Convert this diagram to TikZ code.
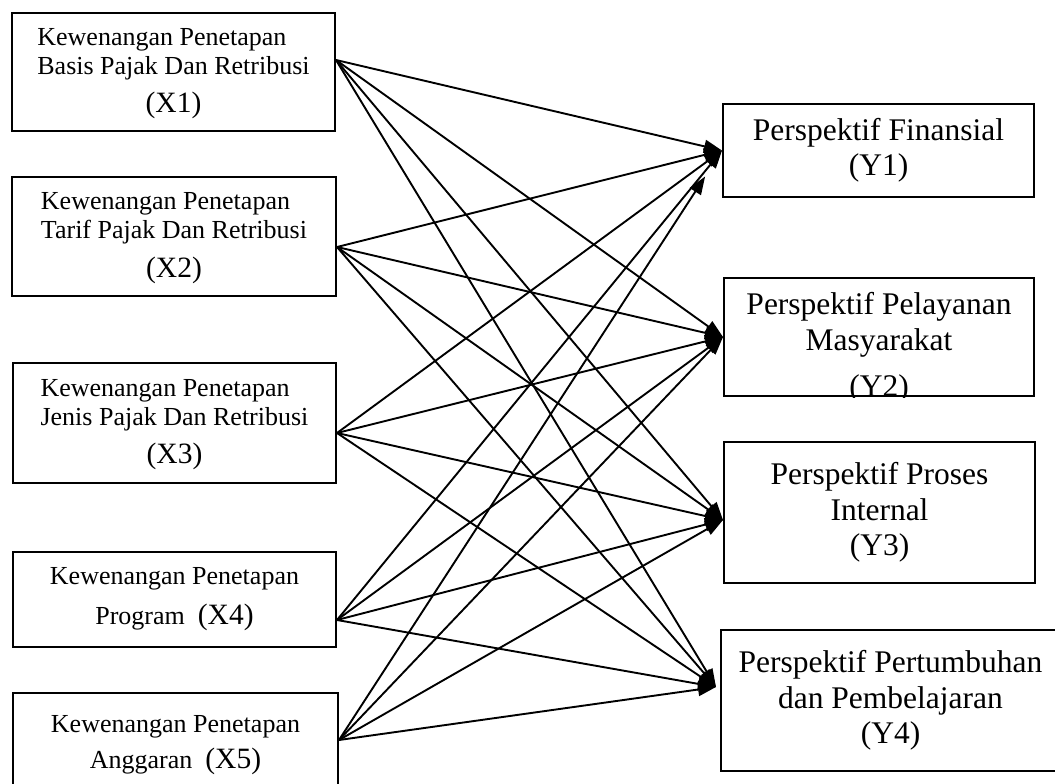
\documentclass[tikz,border=0pt]{standalone}
\usepackage{fontspec}
\setmainfont{Liberation Serif}
\usetikzlibrary{arrows.meta}

\begin{document}
\begin{tikzpicture}[x=1pt, y=-1pt,
    kotakx/.style={draw, line width=2pt, align=center, inner sep=0pt, font=\fontsize{26}{29}\selectfont},
    kotaky/.style={draw, line width=2pt, align=center, inner sep=0pt, font=\fontsize{31.5}{35.5}\selectfont},
    panah/.style={line width=1.9pt, -{Triangle[length=18pt, width=13pt]}}]
    \clip (0,0) rectangle (1055,784);

    % =========================================================
    % VARIABEL X (kiri)
    % =========================================================
    % Kotak X1
    \node[kotakx, minimum width=323pt, minimum height=118pt] (x1) at (173.5,72)
        {\begin{tabular}[b]{@{}l@{}}Kewenangan Penetapan\\Basis Pajak Dan Retribusi\end{tabular}\\[8pt]
         {\fontsize{29.5}{37}\selectfont (X1)}};

    % Kotak X2
    \node[kotakx, minimum width=324pt, minimum height=119pt] (x2) at (174,236.5)
        {\begin{tabular}[b]{@{}l@{}}Kewenangan Penetapan\\Tarif Pajak Dan Retribusi\end{tabular}\\[8pt]
         {\fontsize{29.5}{37}\selectfont (X2)}};

    % Kotak X3
    \node[kotakx, minimum width=323pt, minimum height=120pt] (x3) at (174.5,423)
        {\begin{tabular}[b]{@{}l@{}}Kewenangan Penetapan\\Jenis Pajak Dan Retribusi\end{tabular}\\[8pt]
         {\fontsize{29.5}{37}\selectfont (X3)}};

    % Kotak X4
    \node[kotakx, minimum width=323pt, minimum height=95pt] (x4) at (174.5,599.5)
        {Kewenangan Penetapan\\[11pt]Program\ \ {\fontsize{29.5}{37}\selectfont (X4)}};

    % Kotak X5 (terpotong di bawah)
    \node[kotakx, minimum width=325pt, minimum height=104pt] (x5) at (175.5,745)
        {Kewenangan Penetapan\\[7pt]Anggaran\ \ {\fontsize{29.5}{37}\selectfont (X5)}};

    % =========================================================
    % VARIABEL Y (kanan)
    % =========================================================
    % Kotak Y1
    \node[kotaky, minimum width=311pt, minimum height=93pt] (y1) at (878.5,150.5)
        {Perspektif Finansial\\(Y1)};

    % Kotak Y2 (teks terpotong oleh garis bawah)
    \node[kotaky, minimum width=310pt, minimum height=118pt] (y2) at (879,337) {};
    \begin{scope}
        \clip (y2.south west) rectangle (y2.north east);
        \node[kotaky, draw=none, anchor=north] (y2t) at (879,291.5)
            {Perspektif Pelayanan\\Masyarakat\\[10.5pt](Y2)};
    \end{scope}

    % Kotak Y3
    \node[kotaky, minimum width=311pt, minimum height=141pt] (y3) at (879.5,512.5)
        {Perspektif Proses\\Internal\\(Y3)};

    % Kotak Y4 (terpotong di kanan)
    \node[kotaky, minimum width=339pt, minimum height=141pt] (y4) at (890.5,700.5)
        {Perspektif Pertumbuhan\\dan Pembelajaran\\(Y4)};

    % Titik pangkal dan ujung panah
    \coordinate (x1o) at ([yshift=12pt]x1.east);
    \coordinate (x2o) at ([yshift=-10.5pt]x2.east);
    \coordinate (x3o) at ([yshift=-10pt]x3.east);
    \coordinate (x4o) at ([yshift=-20.5pt]x4.east);
    \coordinate (x5o) at ([yshift=5pt]x5.east);
    \coordinate (y1i) at (y1.west);
    \coordinate (y2i) at (y2.west);
    \coordinate (y3i) at ([yshift=-7.5pt]y3.west);
    \coordinate (y4i) at ([shift={(-4pt,13.5pt)}]y4.west);

    % =========================================================
    % PANAH X -> Y
    % =========================================================
    % dari X1
    \draw[panah] (x1o) -- (y1i);
    \draw[panah] (x1o) -- (y2i);
    \draw[panah] (x1o) -- (y3i);
    \draw[panah] (x1o) -- (y4i);
    % dari X2
    \draw[panah] (x2o) -- (y1i);
    \draw[panah] (x2o) -- (y2i);
    \draw[panah] (x2o) -- (y3i);
    \draw[panah] (x2o) -- (y4i);
    % dari X3
    \draw[panah] (x3o) -- (y1i);
    \draw[panah] (x3o) -- (y2i);
    \draw[panah] (x3o) -- (y3i);
    \draw[panah] (x3o) -- (y4i);
    % dari X4
    \draw[panah] (x4o) -- (y1i);
    \draw[panah] (x4o) -- (y2i);
    \draw[panah] (x4o) -- (y3i);
    \draw[panah] (x4o) -- (y4i);
    % dari X5 (panah ke Y1 berhenti lebih awal)
    \draw[panah, shorten >=31pt] (x5o) -- (y1i);
    \draw[panah] (x5o) -- (y2i);
    \draw[panah] (x5o) -- (y3i);
    \draw[panah] (x5o) -- (y4i);
\end{tikzpicture}
\end{document}
